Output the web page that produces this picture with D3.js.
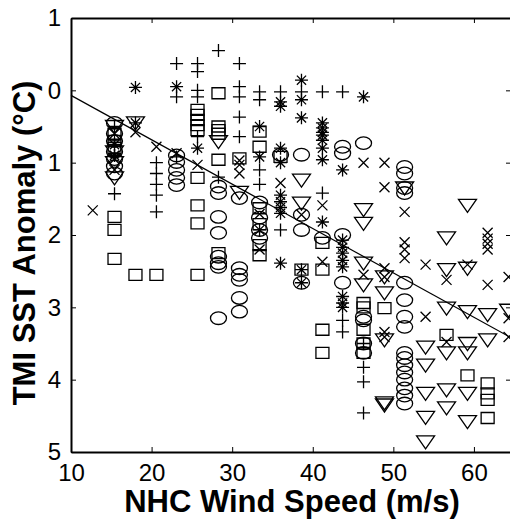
<!DOCTYPE html>
<html>
<head>
<meta charset="utf-8">
<script src="https://cdn.jsdelivr.net/npm/d3@7"></script>
<style>
  body { margin: 0; background: #fff; }
  text { font-family: "Liberation Sans", Arial, sans-serif; }
</style>
</head>
<body>
<div id="chart"></div>
<script>
// wind speed (m/s), SST anomaly (degC, cooling plotted downward)
const plusPts = [
  [15.4,0.5],[15.4,0.7],[15.4,0.9],[15.4,1.43],
  [20.6,1.0],[20.6,1.15],[20.6,1.3],[20.6,1.45],[20.6,1.68],
  [23.1,-0.37],[23.1,0.09],[23.1,0.92],
  [25.7,-0.37],[25.7,-0.26],[25.7,0.0],[25.7,0.09],[25.7,0.64],
  [28.3,-0.55],[28.3,1.2],
  [30.9,-0.37],[30.9,-0.05],[30.9,0.09],[30.9,0.37],[30.9,0.64],
  [33.4,0.02],[33.4,0.13],[33.4,1.1],[33.4,1.3],
  [36,0.02],[36,1.93],[38.6,0.02],[41.2,0.02],[41.2,1.42],
  [43.7,0.02],[43.7,3.18],[43.7,3.34],
  [46.3,3.5],[46.3,3.83],[46.3,4.03],[46.3,4.46]
];
const starPts = [
  [15.4,0.75],[15.4,0.9],[18,-0.04],[18,0.45],[23.1,-0.05],[25.7,0.8],
  [33.4,0.5],[33.4,0.92],[33.4,1.93],
  [36,0.16],[36,0.22],[36,0.8],[36,1.0],[36,1.45],[36,1.54],[36,1.62],[36,1.7],[36,2.39],
  [38.6,-0.14],[38.6,0.13],[38.6,0.38],[38.6,2.48],[38.6,2.66],
  [41.2,0.45],[41.2,0.52],[41.2,0.58],[41.2,0.62],[41.2,0.69],[41.2,0.8],[41.2,0.96],[41.2,1.82],
  [43.7,1.1],[43.7,2.07],[43.7,2.17],[43.7,2.25],[43.7,2.35],[43.7,2.44],[43.7,2.85],[43.7,2.94],[43.7,3.0],
  [46.3,0.09]
];
const circlePts = [
  [15.4,0.45],[15.4,0.6],[15.4,0.7],[15.4,0.85],[15.4,0.95],[15.4,1.05],[15.4,1.15],
  [23.1,0.9],[23.1,0.99],[23.1,1.1],[23.1,1.21],[23.1,1.31],
  [28.3,1.33],[28.3,1.42],[28.3,1.75],[28.3,1.97],[28.3,2.3],[28.3,2.39],[28.3,2.44],[28.3,3.15],
  [30.9,1.49],[30.9,2.46],[30.9,2.55],[30.9,2.62],[30.9,2.87],[30.9,3.06],
  [33.4,1.55],[33.4,1.76],[33.4,1.93],[33.4,2.04],
  [36,0.89],[38.6,0.89],[38.6,1.72],[38.6,1.93],[38.6,2.66],[41.2,2.04],
  [43.7,0.78],[43.7,0.87],[43.7,2.0],[43.7,2.66],
  [46.3,0.73],[46.3,3.13],[46.3,3.18],[46.3,3.5],[46.3,3.63],
  [51.4,1.06],[51.4,1.15],[51.4,1.35],[51.4,1.42],[51.4,2.66],[51.4,2.9],[51.4,3.13],[51.4,3.27],
  [51.4,3.63],[51.4,3.7],[51.4,3.8],[51.4,3.9],[51.4,4.0],[51.4,4.12],[51.4,4.22],[51.4,4.33]
];
const squarePts = [
  [15.4,0.6],[15.4,0.7],[15.4,0.8],[15.4,1.75],[15.4,1.93],[15.4,2.33],
  [18,2.55],[20.6,2.55],
  [25.7,0.27],[25.7,0.34],[25.7,0.41],[25.7,0.48],[25.7,0.55],[25.7,1.21],[25.7,1.59],[25.7,1.84],[25.7,2.55],
  [28.3,0.04],[28.3,0.5],[28.3,0.55],[28.3,0.6],[28.3,0.96],[28.3,2.25],
  [30.9,0.94],
  [33.4,0.57],[33.4,0.78],[33.4,1.63],[33.4,1.85],[33.4,2.14],[33.4,2.28],
  [36,0.92],[38.6,2.48],[41.2,2.11],[41.2,2.48],[41.2,3.31],[41.2,3.63],
  [46.3,2.94],[46.3,3.0],[46.3,3.31],[46.3,3.5],[46.3,3.63],
  [48.9,3.01],[56.6,3.38],[59.2,3.94],
  [61.7,4.05],[61.7,4.19],[61.7,4.28],[61.7,4.53]
];
const trianglePts = [
  [15.4,0.5],[15.4,0.85],[15.4,1.0],[15.4,1.21],[18,0.45],[28.3,0.71],[30.9,1.41],
  [38.6,1.24],[38.6,1.56],
  [46.3,1.65],[46.3,1.84],[46.3,2.39],[46.3,2.69],
  [48.9,2.58],[48.9,2.8],[48.9,3.45],[48.9,4.32],[48.9,4.35],[51.4,1.35],
  [54,3.55],[54,3.8],[54,4.19],[54,4.52],[54,4.86],
  [56.6,2.04],[56.6,2.48],[56.6,3.01],[56.6,3.63],[56.6,4.14],[56.6,4.39],
  [59.2,1.59],[59.2,2.46],[59.2,3.06],[59.2,3.5],[59.2,3.63],[59.2,4.19],[59.2,4.58],
  [61.7,3.1],[61.7,3.45],[64.3,3.04]
];
const crossPts = [
  [12.7,1.66],[15.4,0.6],[15.4,0.95],[15.4,1.1],[18,0.58],[20.6,0.78],[23.1,0.87],[25.7,1.03],
  [30.9,0.97],[30.9,1.03],[30.9,1.15],[33.4,1.71],[33.4,2.2],[36,1.28],[38.6,1.72],
  [41.2,1.59],[41.2,2.37],[46.3,1.0],[46.3,2.55],
  [48.9,1.0],[48.9,1.34],[48.9,2.46],[48.9,2.58],[48.9,3.34],[48.9,3.41],
  [51.4,1.68],[51.4,2.1],[51.4,2.2],[51.4,2.32],[54,2.41],[54,3.13],[56.6,2.62],[56.6,3.48],
  [59.2,2.41],[61.7,1.97],[61.7,2.05],[61.7,2.12],[61.7,2.2],[61.7,2.69],
  [64.3,2.58],[64.3,3.15],[64.3,3.41]
];
// least squares fit end points
const fitLine = [[10,0.07],[64.6,3.42]];
const xTicks = [10,20,30,40,50,60];
const yTicks = [-1,0,1,2,3,4,5];

const width = 510, height = 519;
const mLeft = 71, mTop = 18, mRight = 511, mBottom = 452;

const svg = d3.select("#chart").append("svg")
  .attr("width", width)
  .attr("height", height);

const x = d3.scaleLinear().domain([10, 64.6]).range([mLeft, mRight]);
const y = d3.scaleLinear().domain([-1, 5]).range([mTop, mBottom]);

// marker outlines
const shapes = {
  plus: "M-6.5,0H6.5M0,-6.5V6.5",
  cross: "M-5,-5L5,5M-5,5L5,-5",
  star: "M-6.5,0H6.5M0,-6.5V6.5M-4.6,-4.6L4.6,4.6M-4.6,4.6L4.6,-4.6",
  square: "M-6.5,-5.5H6.5V5.5H-6.5Z",
  triangle: "M-9,-6H9L0,7Z",
  circle: "M-8,0A8,6.3 0 1,0 8,0A8,6.3 0 1,0 -8,0Z"
};

const groups = [
  ["circle", circlePts], ["square", squarePts], ["triangle", trianglePts],
  ["plus", plusPts], ["cross", crossPts], ["star", starPts]
];

const plot = svg.append("g");
groups.forEach(([name, pts]) => {
  plot.selectAll("path." + name)
    .data(pts)
    .enter()
    .append("path")
    .attr("class", name)
    .attr("d", shapes[name])
    .attr("transform", d => `translate(${x(d[0])},${y(d[1])})`)
    .attr("fill", "none")
    .attr("stroke", "#000")
    .attr("stroke-width", 1.3);
});

svg.append("path")
  .attr("d", d3.line().x(d => x(d[0])).y(d => y(d[1]))(fitLine))
  .attr("fill", "none")
  .attr("stroke", "#000")
  .attr("stroke-width", 1.2);

// axes, ticks inward on all four sides
const fmt = d => Math.abs(d);
const axB = svg.append("g").attr("transform", `translate(0,${mBottom})`)
  .call(d3.axisBottom(x).tickValues(xTicks).tickSizeInner(-5).tickSizeOuter(0).tickPadding(12));
const axT = svg.append("g").attr("transform", `translate(0,${mTop})`)
  .call(d3.axisTop(x).tickValues(xTicks).tickSizeInner(-5).tickSizeOuter(0).tickFormat(""));
const axL = svg.append("g").attr("transform", `translate(${mLeft},0)`)
  .call(d3.axisLeft(y).tickValues(yTicks).tickSizeInner(-5).tickSizeOuter(0).tickPadding(10).tickFormat(fmt));
const axR = svg.append("g").attr("transform", `translate(${mRight},0)`)
  .call(d3.axisRight(y).tickValues(yTicks).tickSizeInner(-5).tickSizeOuter(0).tickFormat(""));

[axB, axT, axL, axR].forEach(a => {
  a.select(".domain").attr("stroke", "#000").attr("stroke-width", 2);
  a.selectAll(".tick line").attr("stroke", "#000").attr("stroke-width", 1);
  a.selectAll("text").attr("fill", "#000")
    .style("font-family", "'Liberation Sans', Arial, sans-serif")
    .style("font-size", "24px");
});

svg.append("text")
  .attr("x", 292)
  .attr("y", 512)
  .attr("text-anchor", "middle")
  .style("font-size", "31px")
  .style("font-weight", "bold")
  .text("NHC Wind Speed (m/s)");

svg.append("text")
  .attr("transform", "translate(35,243) rotate(-90)")
  .attr("text-anchor", "middle")
  .style("font-size", "31px")
  .style("font-weight", "bold")
  .text("TMI SST Anomaly (°C)");
</script>
</body>
</html>
